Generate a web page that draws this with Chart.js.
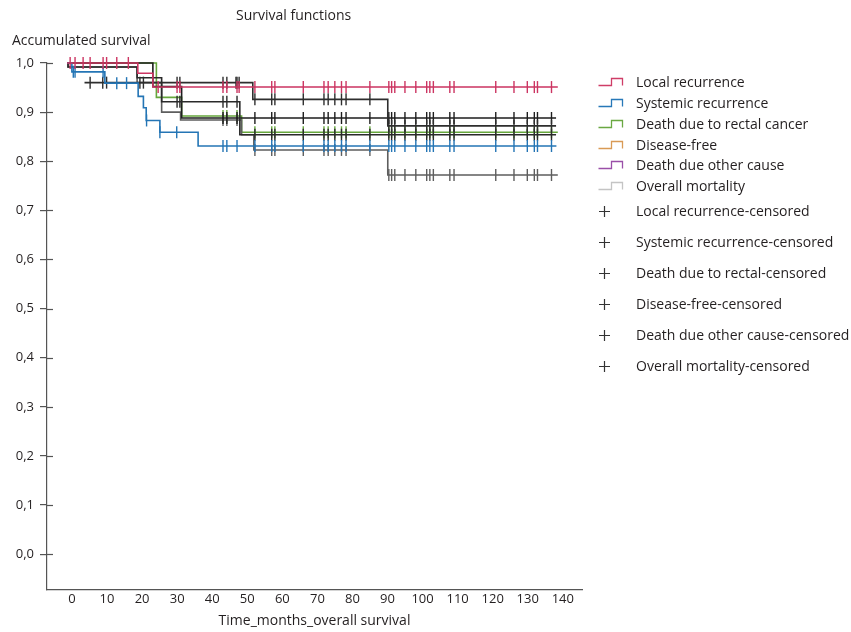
<!DOCTYPE html>
<html><head><meta charset="utf-8">
<script src="https://cdn.jsdelivr.net/npm/chart.js@4"></script>
<style>
body{margin:0;background:#fff;}
#wrap{position:relative;width:851px;height:632px;font-family:"Open Sans",sans-serif;color:#231f20;}
canvas{position:absolute;left:0;top:0;}
.t{position:absolute;white-space:nowrap;font-size:14px;line-height:16px;}
.lg{position:absolute;left:598px;white-space:nowrap;font-size:14px;line-height:16px;}
.lg svg{position:absolute;left:0;top:3px;}
.lg span{position:absolute;left:38px;top:0;}
.lg svg.pl{left:0;top:2px;}
</style></head>
<body><div id="wrap">
<canvas id="c" width="851" height="632"></canvas>
<div class="t" style="left:236px;top:7px;">Survival functions</div>
<div class="t" style="left:12px;top:32px;">Accumulated survival</div>
<div id="legend"></div>
</div>
<script>
const FONT='"Open Sans", sans-serif';
const xTicks=[0,10,20,30,40,50,60,70,80,90,100,110,120,130,140];
const yTicks=[0,0.1,0.2,0.3,0.4,0.5,0.6,0.7,0.8,0.9,1.0];

// step survival curves (time in months, survival after that time)
const localT=[0,20.2,24.5,140];
const localS=[1,0.979,0.951,0.951];
const localC=[0.9,2.3,4.6,6.6,10.3,11.3,14.2,17.5,26.0,31.4,32.2,44.5,45.6,48.5,49.1];

const systT=[0,1.4,10.8,20.3,21.8,22.6,26.5,37.4,139.6];
const systS=[1,0.982,0.959,0.932,0.909,0.883,0.859,0.831,0.831];
const systC=[1.8,2.3,10.3,14.2,17.0,22.7,26.5,31.3,44.5,45.6,48.5];

const rectalT=[0,25.5,32.7,49.8,140];
const rectalS=[1,0.93,0.892,0.859,0.859];
const rectalC=[44.5,45.6,48.5];

const dfsT=[0,0.3,20.0,27.0,32.4,49.8,53.3,91.5,140];
const dfsS=[1,0.992,0.96,0.90,0.884,0.854,0.823,0.772,0.772];
const dfsC=[44.5,45.6,48.5];

const otherT=[5.0,53.0,91.5,139.5];
const otherS=[0.96,0.926,0.872,0.872];
const otherC=[6.6,10.2,11.3,20.8,21.8,31.4,32.2,44.5,45.6,48.2,48.5,49.1];

const overallT=[0,0.3,20.0,27.0,49.3,139.5];
const overallS=[1,0.992,0.97,0.921,0.854,0.854];
const overallC=[31.4,32.2,44.5,45.6,48.5];

const overall2T=[0,24.5,32.7,139.5];
const overall2S=[1,0.952,0.888,0.888];
const overall2C=[44.5,45.6,48.5];

const lateC=[53.6,58.4,59.3,67.4,73.3,74.5,76.4,78.3,79.6,86.4,91.8,92.6,93.5,96.4,99.5,102.6,103.5,104.5,109.2,110.4,122.3,127.5,131.3,133.3,134.2,138.2];

const legendLines=[
 ['Local recurrence','#cf3d67'],
 ['Systemic recurrence','#2778b8'],
 ['Death due to rectal cancer','#6aa842'],
 ['Disease-free','#d99a55'],
 ['Death due other cause','#9a4fa8'],
 ['Overall mortality','#c4c4c4']
];
const legendCensored=['Local recurrence-censored','Systemic recurrence-censored','Death due to rectal-censored','Disease-free-censored','Death due other cause-censored','Overall mortality-censored'];

const series=[
 {name:'Local recurrence',T:localT,S:localS,C:localC,color:'#cc3562'},
 {name:'Systemic recurrence',T:systT,S:systS,C:systC,color:'#2475b5'},
 {name:'Death due other cause',T:otherT,S:otherS,C:otherC,color:'#2e2e2e'},
 {name:'Overall mortality',T:overallT,S:overallS,C:overallC,color:'#2a2a2a'},
 {name:'Overall mortality (2)',T:overall2T,S:overall2S,C:overall2C,color:'#1e1e1e'},
 {name:'Disease-free',T:dfsT,S:dfsS,C:dfsC,color:'#5e5e5e'},
 {name:'Death due to rectal cancer',T:rectalT,S:rectalS,C:rectalC,color:'#66a73c'}
];

function survAt(T,S,t){let v=S[0];for(let i=0;i<T.length;i++){if(T[i]<=t)v=S[i];}return v;}

const datasets=[];
series.forEach(s=>{
  const cens=s.C.concat(lateC).filter(t=>t<=s.T[s.T.length-1]);
  datasets.push({label:s.name+'-censored',data:cens.map(t=>({x:t,y:survAt(s.T,s.S,t)})),showLine:false,
    pointStyle:'line',rotation:90,pointRadius:6,pointHoverRadius:6,pointBorderWidth:1.4,
    borderColor:s.color,backgroundColor:s.color,clip:false});
  datasets.push({label:s.name,data:s.T.map((t,i)=>({x:t,y:s.S[i]})),stepped:true,showLine:true,
    borderColor:s.color,borderWidth:1.6,pointRadius:0,pointHoverRadius:0,fill:false,clip:false});
});

const innerTicks={id:'innerTicks',beforeDatasetsDraw(chart){
  const s=chart.scales.y,ctx=chart.ctx;ctx.save();ctx.strokeStyle='#555';ctx.lineWidth=1.2;
  s.ticks.forEach(t=>{const y=Math.round(s.getPixelForValue(t.value))+0.5;ctx.beginPath();ctx.moveTo(s.right,y);ctx.lineTo(s.right+6,y);ctx.stroke();});
  ctx.restore();}};

new Chart(document.getElementById('c'),{
  type:'line',
  data:{datasets},
  plugins:[innerTicks],
  options:{
    responsive:false,animation:false,
    layout:{padding:{top:63,right:269,left:0,bottom:0}},
    plugins:{legend:{display:false},tooltip:{enabled:false}},
    scales:{
      x:{type:'linear',min:-5.7,max:146.9,
        afterBuildTicks:s=>{s.ticks=xTicks.map(v=>({value:v}));},
        afterFit:s=>{s.height=42;},
        grid:{display:false,drawTicks:false},
        border:{display:true,color:'#555',width:1.2},
        ticks:{labelOffset:5,padding:1,color:'#231f20',font:{family:FONT,size:13},maxRotation:0,autoSkip:false},
        title:{display:true,text:'Time_months_overall survival',color:'#231f20',font:{family:FONT,size:14},padding:{top:0,bottom:3}}
      },
      y:{min:-0.073,max:1.0,
        afterBuildTicks:s=>{s.ticks=yTicks.map(v=>({value:v}));},
        afterFit:s=>{s.width=47;},
        grid:{drawOnChartArea:false,drawTicks:true,tickLength:7,color:'#555',lineWidth:1.2},
        border:{display:true,color:'#555',width:1.2},
        ticks:{padding:6,color:'#231f20',font:{family:FONT,size:13},callback:v=>v.toFixed(1).replace('.',',')}
      }
    }
  }
});

// legend
const lg=document.getElementById('legend');
const y1=[82,103,124,145,165,186];
legendLines.forEach((e,i)=>{
  const d=document.createElement('div');d.className='lg';d.style.top=(y1[i]-8)+'px';
  d.innerHTML='<svg width="26" height="10"><path d="M0.5,8.5 H13.5 V1.5 H24.5 V8.5" fill="none" stroke="'+e[1]+'" stroke-width="1.3"/></svg><span>'+e[0]+'</span>';
  lg.appendChild(d);
});
const y2=[211,242,273,304,335,366];
legendCensored.forEach((e,i)=>{
  const d=document.createElement('div');d.className='lg';d.style.top=(y2[i]-8)+'px';
  d.innerHTML='<svg class="pl" width="14" height="14"><path d="M1,6.5 H12 M6.5,1 V12" fill="none" stroke="#333" stroke-width="1.2"/></svg><span>'+e+'</span>';
  lg.appendChild(d);
});
</script>
</body></html>
